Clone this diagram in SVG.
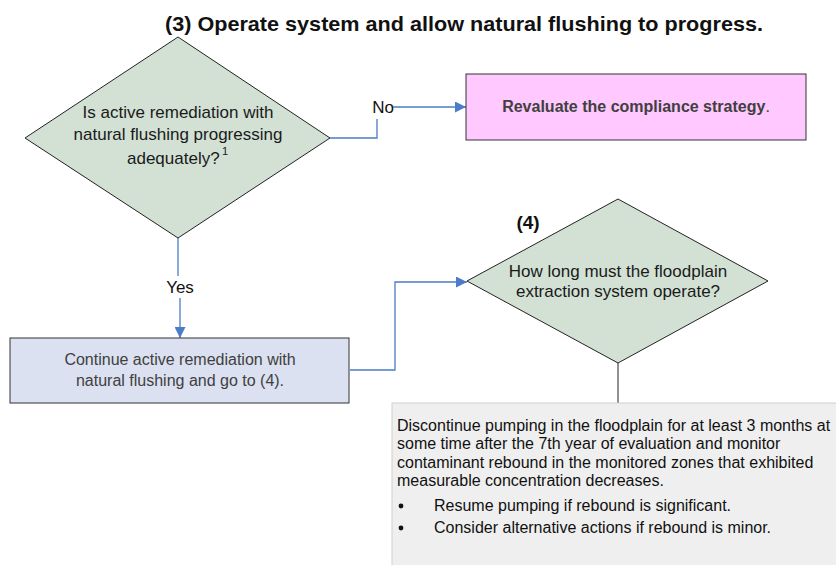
<svg xmlns="http://www.w3.org/2000/svg" width="836" height="565" viewBox="0 0 836 565">
<defs>
<marker id="arr" viewBox="0 0 10 10" refX="10" refY="5" markerWidth="11" markerHeight="11" markerUnits="userSpaceOnUse" orient="auto">
<path d="M0,0 L10,5 L0,10 z" fill="#4a7cc7"/>
</marker>
<style>
text{font-family:"Liberation Sans",Arial,sans-serif}
.dia{fill:#d2e1d4;stroke:#222;stroke-width:1}
.t17{font-size:17px;fill:#1a1a1a;text-anchor:middle}
.t16{font-size:16px;fill:#404040;text-anchor:middle}
.body{font-size:16px;fill:#111}
.conn{fill:none;stroke:#4a7cc7;stroke-width:1.3}
.lbl{font-size:17px;fill:#111;text-anchor:middle}
</style>
</defs>
<rect width="836" height="565" fill="#fff"/>
<text x="464" y="31" font-size="20.5" font-weight="bold" text-anchor="middle" fill="#111" textLength="598" lengthAdjust="spacingAndGlyphs">(3) Operate system and allow natural flushing to progress.</text>

<g id="connectors">
<polyline class="conn" points="330,138 377,138 377,119"/>
<text class="lbl" x="383" y="113">No</text>
<line class="conn" x1="393" y1="107" x2="466" y2="107" marker-end="url(#arr)"/>
<line class="conn" x1="178" y1="238" x2="178" y2="276"/>
<text class="lbl" x="180" y="293">Yes</text>
<line class="conn" x1="180" y1="298" x2="180" y2="338" marker-end="url(#arr)"/>
<polyline class="conn" points="350,370 395,370 395,282 467,282" marker-end="url(#arr)"/>
<line x1="618" y1="363" x2="618" y2="403" stroke="#555" stroke-width="1.3"/>
</g>

<g id="decision1">
<polygon class="dia" points="178,37 330,138 178,238 25,138"/>
<text class="t17" x="178" y="118">Is active remediation with</text>
<text class="t17" x="178" y="140">natural flushing progressing</text>
<text x="127" y="164" font-size="17" fill="#1a1a1a">adequately?</text>
<text x="222" y="155" font-size="11" fill="#1a1a1a">1</text>
</g>

<g id="revaluate">
<rect x="466" y="74" width="340" height="66" fill="#ffc8ff" stroke="#333" stroke-width="1"/>
<text x="636" y="112" font-size="16" fill="#404040" text-anchor="middle"><tspan font-weight="bold">Revaluate the compliance strategy</tspan>.</text>
</g>

<g id="continue">
<rect x="10" y="338" width="339" height="65" fill="#dbe1f0" stroke="#333" stroke-width="1"/>
<text class="t16" x="180" y="365">Continue active remediation with</text>
<text class="t16" x="180" y="386">natural flushing and go to (4).</text>
</g>

<g id="decision4">
<text x="528" y="229" font-size="19" font-weight="bold" text-anchor="middle" fill="#111">(4)</text>
<polygon class="dia" points="618,199 768,281 618,363 467,281"/>
<text class="t17" x="618" y="277">How long must the floodplain</text>
<text class="t17" x="618" y="297">extraction system operate?</text>
</g>

<g id="discontinue">
<rect x="392" y="403" width="450" height="170" fill="#efefef" stroke="#cfcfcf" stroke-width="1"/>
<text class="body" x="397" y="431">Discontinue pumping in the floodplain for at least 3 months at</text>
<text class="body" x="397" y="449">some time after the 7th year of evaluation and monitor</text>
<text class="body" x="397" y="468">contaminant rebound in the monitored zones that exhibited</text>
<text class="body" x="397" y="486">measurable concentration decreases.</text>
<circle cx="401" cy="506" r="2.4" fill="#111"/>
<text class="body" x="434" y="511">Resume pumping if rebound is significant.</text>
<circle cx="401" cy="528" r="2.4" fill="#111"/>
<text class="body" x="434" y="533">Consider alternative actions if rebound is minor.</text>
</g>
</svg>
